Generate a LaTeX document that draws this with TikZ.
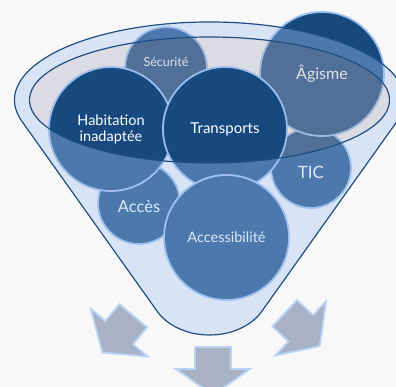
\documentclass[tikz,border=0pt]{standalone}
\usepackage{fontspec}
\setmainfont{Lato}
\usepackage{tikz}

\definecolor{fond}{HTML}{F8F8F8}
\definecolor{bleufonce}{HTML}{17497F}
\definecolor{bleuclair}{HTML}{9CBEEE}
\definecolor{voile}{HTML}{A5C6F4}
\definecolor{voilegris}{HTML}{AEB1C1}
\definecolor{trait}{HTML}{1F4E85}
\definecolor{flechegris}{HTML}{A9B2C4}
\definecolor{flechebord}{HTML}{B8D3F7}

\tikzset{
  bulle/.style={circle, fill=bleufonce, draw=bleuclair, line width=1.8pt, inner sep=0pt},
  texte/.style={text=white, align=center, font=\fontsize{14.5}{16}\selectfont},
  fleche/.style={fill=flechegris, draw=flechebord, line width=1.8pt},
}
% contour de l'entonnoir
\newcommand\entonnoir{([shift={(209.5,287)}]196:195 and 78) arc[start angle=196, end angle=-16, x radius=195, y radius=78]
  -- (261.3,75) .. controls (257,68.5) and (240,52) .. (209.5,52) .. controls (179,52) and (162,68.5) .. (157.7,75) -- cycle}

\begin{document}
\begin{tikzpicture}[x=1pt, y=1pt]
  \useasboundingbox (0,0) rectangle (396,387);
  \fill[fond] (0,0) rectangle (396,387);
  \clip (0,0) rectangle (396,387);
  % bulles du fond
  \node[bulle, minimum size=80pt] (tic) at (311,219) {};
  \node[texte, font=\fontsize{17}{19}\selectfont] (tic-txt) at ([yshift=-4pt]tic.center) {TIC};
  \node[bulle, minimum size=124pt, texte, font=\fontsize{16}{18}\selectfont] (agisme) at (322,313) {Âgisme};
  \node[bulle, minimum size=82pt] (securite) at (166,319) {};
  \node[texte, font=\fontsize{12.5}{14}\selectfont] (securite-txt) at ([yshift=6pt]securite.center) {Sécurité};
  % ouverture
  \fill[voilegris, opacity=0.38] (209.5,287) ellipse [x radius=180, y radius=63];
  % bulles de devant
  \node[bulle, minimum size=82pt] (acces) at (139,184) {};
  \node[texte, font=\fontsize{16.5}{18}\selectfont] (acces-txt) at ([yshift=-4pt]acces.center) {Accès};
  \node[bulle, minimum size=124pt, texte] (habitation) at (111,258) {Habitation\\inadaptée};
  \node[bulle, minimum size=124pt, texte, font=\fontsize{15}{17}\selectfont] (transports) at (225,258) {Transports};
  \node[bulle, minimum size=125pt, texte] (accessibilite) at (226.5,149.5) {Accessibilité};
  % voile bleu et traits
  \fill[voile, opacity=0.38, even odd rule] \entonnoir (209.5,287) ellipse [x radius=180, y radius=63];
  \draw[trait, line width=1.2pt] \entonnoir;
  \draw[trait, line width=1.2pt] (209.5,287) ellipse [x radius=180, y radius=63];
  % fleches
  \foreach \x/\y/\ang in {133.3/71.2/230, 284.7/73.7/-43, 213/40/-90}
    \draw[fleche, shift={(\x,\y)}, rotate=\ang] (0,-18) -- (22,-18) -- (22,-37) -- (48,0) -- (22,37) -- (22,18) -- (0,18) -- cycle;
\end{tikzpicture}
\end{document}
